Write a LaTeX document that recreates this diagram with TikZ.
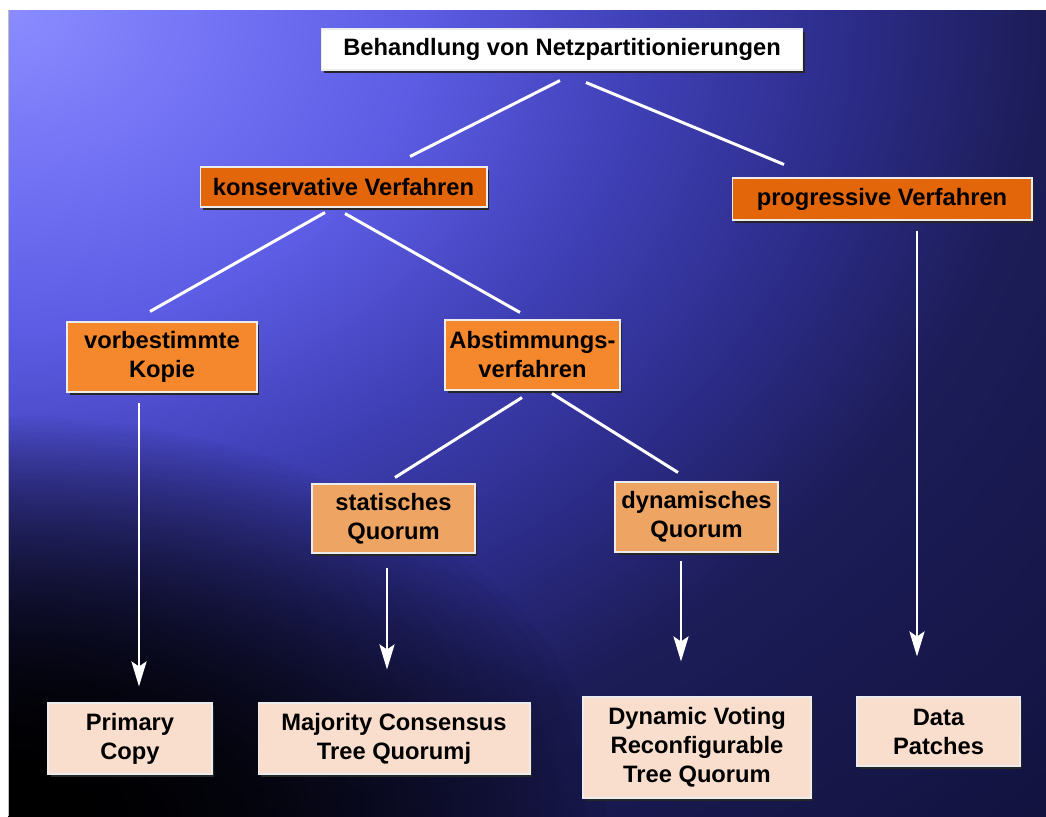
\documentclass[tikz,border=0pt]{standalone}
\usepackage{fontspec}
\setmainfont{Liberation Sans}
\usetikzlibrary{arrows.meta,shadows,fadings}

\definecolor{bgA}{RGB}{140,140,255}
\definecolor{bgB}{RGB}{115,115,245}
\definecolor{bgC}{RGB}{92,92,228}
\definecolor{bgD}{RGB}{65,65,185}
\definecolor{bgE}{RGB}{45,45,140}
\definecolor{bgF}{RGB}{28,28,88}
\definecolor{bgG}{RGB}{18,18,62}
\definecolor{orDark}{RGB}{228,102,10}
\definecolor{orMid}{RGB}{245,135,45}
\definecolor{orLight}{RGB}{238,165,100}
\definecolor{peach}{RGB}{250,222,205}

\pgfdeclareradialshading{netzbg}{\pgfpoint{0bp}{0bp}}{%
  color(0bp)=(bgA); color(10bp)=(bgB); color(20bp)=(bgC); color(30bp)=(bgD);
  color(40bp)=(bgE); color(50bp)=(bgF); color(72bp)=(bgG)}
\tikzfading[name=cornerfade, inner color=transparent!0, outer color=transparent!100]

\tikzset{
  box/.style={draw=white!85!gray, line width=0.6pt, inner sep=0pt, align=center,
    text=black, font=\bfseries\fontsize{13.5pt}{16.5pt}\selectfont,
    general shadow={fill=black!85, shadow xshift=0.05cm, shadow yshift=-0.05cm}},
  topbox/.style={box, fill=white},
  lvlA/.style={box, fill=orDark},
  lvlB/.style={box, fill=orMid},
  lvlC/.style={box, fill=orLight},
  leaf/.style={box, fill=peach},
  link/.style={white, line width=1.7pt},
  pfeil/.style={link, -{Stealth[length=0.5cm, width=0.3cm, inset=0.1cm]}}
}

\begin{document}
\begin{tikzpicture}[x=0.02cm, y=-0.02cm]
        \useasboundingbox (0,0) rectangle (1046,816);
        \fill[white] (0,0) rectangle (1046,816);
        \begin{scope}
          \clip (8,10) rectangle (1046,816);
          \begin{scope}[transform canvas={shift={(8,10)}, xscale=11.77, yscale=9.14}]
            \pgfuseshading{netzbg}
          \end{scope}
          \foreach \k in {1,2}
            \fill[black, path fading=cornerfade] (8,816) ellipse[x radius=600, y radius=400];
        \end{scope}
        \draw[gray!50, line width=0.5pt] (8,10) -- (8,816);

        \node[topbox, minimum width=9.62cm, minimum height=0.82cm] (Top) at (562,49.5) {Behandlung von Netzpartitionierungen};
        \node[lvlA, minimum width=5.74cm, minimum height=0.8cm] (Kons) at (343.5,187) {konservative Verfahren};
        \node[lvlA, minimum width=6cm, minimum height=0.84cm] (Prog) at (882,199) {progressive Verfahren};
        \node[lvlB, minimum width=3.8cm, minimum height=1.4cm] (Vorb) at (162,357) {vorbestimmte\\Kopie};
        \node[lvlB, minimum width=3.5cm, minimum height=1.4cm] (Abst) at (532.5,355) {Abstimmungs-\\verfahren};
        \node[lvlC, minimum width=3.26cm, minimum height=1.38cm] (Stat) at (393.5,518.5) {statisches\\Quorum};
        \node[lvlC, minimum width=3.26cm, minimum height=1.4cm] (Dyn) at (696.5,517) {dynamisches\\Quorum};
        \node[leaf, minimum width=3.28cm, minimum height=1.42cm] (Prim) at (130,738.5) {Primary\\Copy};
        \node[leaf, minimum width=5.44cm, minimum height=1.42cm] (Maj) at (394,738.5) {Majority Consensus\\Tree Quorumj};
        \node[leaf, minimum width=4.56cm, minimum height=2.02cm] (DynV) at (697,747.5) {Dynamic Voting\\Reconfigurable\\Tree Quorum};
        \node[leaf, minimum width=3.26cm, minimum height=1.38cm] (Data) at (938.5,731.5) {Data\\Patches};

        \draw[link] ([shift={(-2,10)}]Top.south) -- ([shift={(66.5,-10)}]Kons.north);
        \draw[link] ([shift={(24,12)}]Top.south) -- ([shift={(-98,-13)}]Prog.north);
        \draw[link] ([shift={(-18.5,5)}]Kons.south) -- ([shift={(-12,-10)}]Vorb.north);
        \draw[link] ([shift={(1.5,6)}]Kons.south) -- ([shift={(-12.5,-7)}]Abst.north);
        \draw[link] ([shift={(-10.5,7)}]Abst.south) -- ([shift={(1.5,-6)}]Stat.north);
        \draw[link] ([shift={(19.5,3)}]Abst.south) -- ([shift={(-18.5,-9)}]Dyn.north);

        \draw[pfeil] ([shift={(-23,10)}]Vorb.south) -- ([shift={(9,-16)}]Prim.north);
        \draw[pfeil] ([shift={(-6.5,14)}]Stat.south) -- ([shift={(-7,-33)}]Maj.north);
        \draw[pfeil] ([shift={(-15.5,8)}]Dyn.south) -- ([shift={(-16,-35)}]DynV.north);
        \draw[pfeil] ([shift={(35,10)}]Prog.south) -- ([shift={(-21.5,-40)}]Data.north);
\end{tikzpicture}
\end{document}
